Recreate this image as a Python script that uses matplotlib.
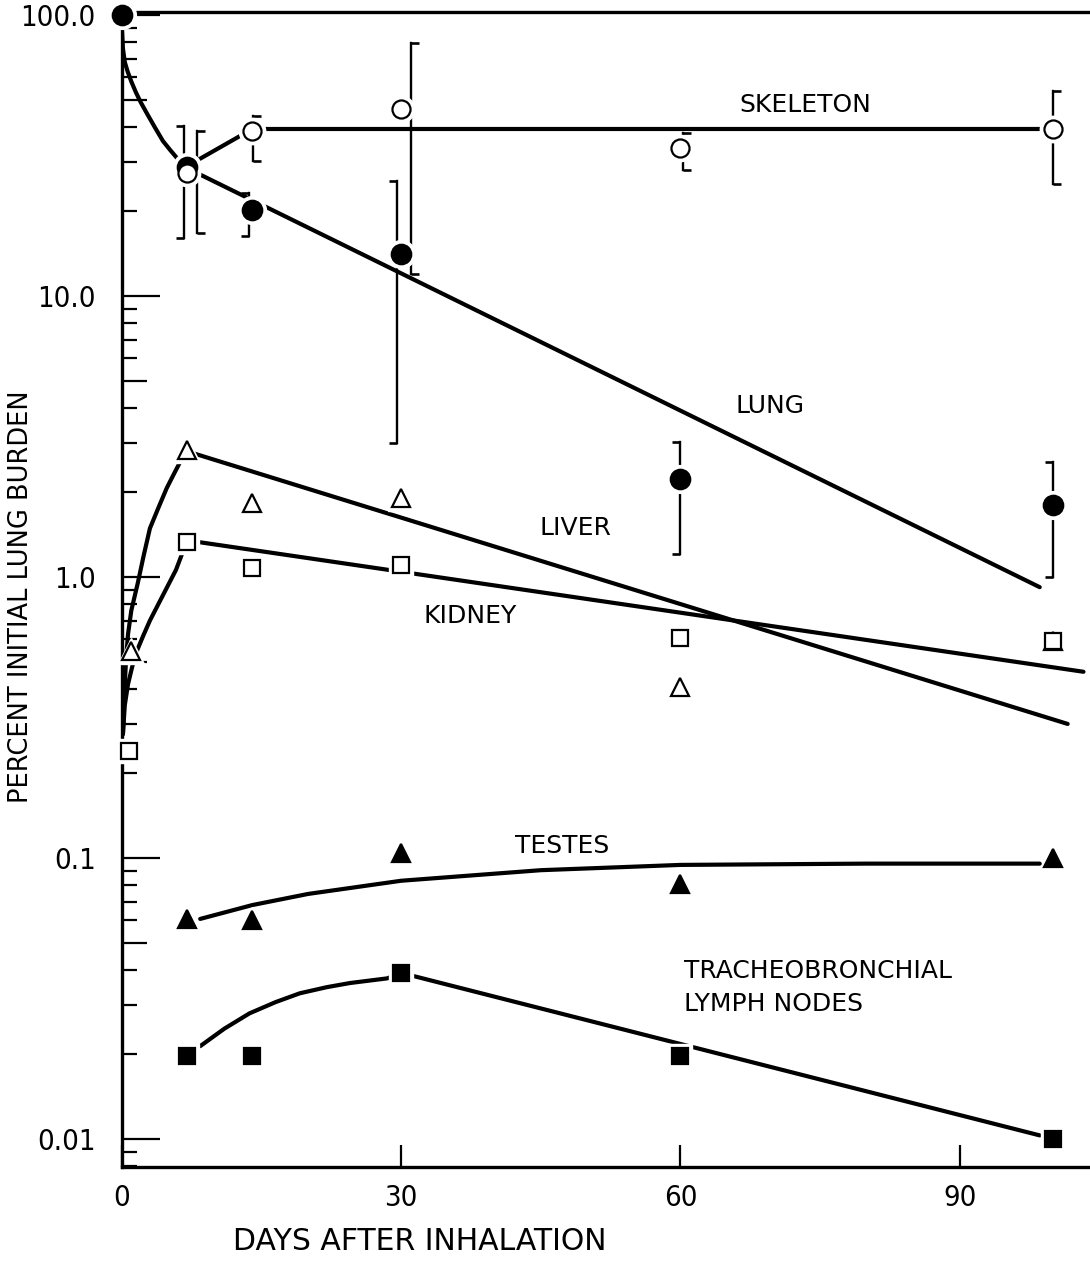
import matplotlib

matplotlib.use("Agg")
import matplotlib.pyplot as plt
import matplotlib.transforms as mtransforms
from matplotlib.path import Path
from matplotlib.ticker import FixedLocator, LogLocator, NullFormatter

plt.rcParams["font.family"] = ["DejaVu Sans"]

# measured points (days, percent of initial lung burden)
lung_days = [0, 7, 14, 30, 60, 100]
lung_vals = [100.0, 28.8, 20.2, 14.1, 2.23, 1.80]
skel_days = [7, 14, 30, 60, 100]
skel_vals = [27.4, 38.5, 46.3, 33.6, 39.3]
liver_days = [1, 7, 14, 30, 60, 100]
liver_vals = [0.545, 2.83, 1.83, 1.91, 0.406, 0.59]
kidney_days = [0.7, 7, 14, 30, 60, 100]
kidney_vals = [0.24, 1.33, 1.08, 1.10, 0.607, 0.59]
testes_days = [7, 14, 30, 60, 100]
testes_vals = [0.0607, 0.060, 0.104, 0.081, 0.10]
lymph_days = [7, 14, 30, 60, 100]
lymph_vals = [0.0197, 0.0197, 0.039, 0.0197, 0.010]

# error ranges
lung_err_days = [7, 14, 30, 60, 100]
lung_err_lo = [16.1, 16.3, 3.0, 1.21, 1.0]
lung_err_hi = [40.3, 23.3, 25.7, 3.02, 2.57]
skel_err_days = [7, 14, 30, 60, 100]
skel_err_lo = [16.8, 30.2, 12.0, 28.0, 25.0]
skel_err_hi = [38.7, 43.7, 79.5, 38.0, 53.7]

# hand-drawn fit curves
lung_fit_days = [0.0, 0.1, 0.3, 0.6, 1.0, 1.5, 2.0, 2.7, 3.5, 4.4, 5.2, 5.9, 7.0, 98.6]
lung_fit_vals = [88, 76, 68, 63, 58, 53, 49, 44.5, 40, 35.6, 33, 31, 28.5, 0.92]
skel_fit_days = [7, 14, 100]
skel_fit_vals = [29, 39.3, 39.3]
liver_fit_days = [0.1, 0.2, 0.3, 0.45, 0.65, 1.0, 1.7, 2.3, 3.0, 3.9, 4.8, 5.5, 6.2, 7.0, 101.6]
liver_fit_vals = [0.276, 0.34, 0.416, 0.52, 0.627, 0.76, 0.953, 1.18, 1.49, 1.76, 2.07, 2.3, 2.55, 2.8, 0.30]
kidney_fit_days = [0.1, 0.3, 0.65, 1.1, 1.6, 2.3, 3.0, 3.9, 4.8, 5.8, 7.0, 103.3]
kidney_fit_vals = [0.276, 0.35, 0.416, 0.48, 0.546, 0.62, 0.70, 0.80, 0.914, 1.06, 1.35, 0.46]
testes_fit_days = [8.4, 14, 20, 30, 45, 60, 80, 98.6]
testes_fit_vals = [0.0607, 0.068, 0.0745, 0.083, 0.0905, 0.0945, 0.0955, 0.0955]
lymph_fit_days = [8.4, 11, 13.7, 16.5, 19.1, 22, 24.5, 28.5, 30, 98.6]
lymph_fit_vals = [0.0214, 0.0247, 0.028, 0.0307, 0.033, 0.0347, 0.0359, 0.0373, 0.039, 0.0103]

x_ticks = [0, 30, 60, 90]
y_ticks = [0.01, 0.1, 1.0, 10.0, 100.0]
y_tick_labels = ["0.01", "0.1", "1.0", "10.0", "100.0"]


def main() -> None:
    fig = plt.figure(figsize=(10.9, 12.79), dpi=100)
    ax = fig.add_axes([122 / 1090, 1 - 1167 / 1279, 968 / 1090, 1155 / 1279])
    ax.set_yscale("log")
    ax.set_xlim(0, 104)
    ax.set_ylim(0.00795, 102.5)

    for side in ("top", "bottom", "left"):
        ax.spines[side].set_linewidth(2.4)
    ax.spines["right"].set_visible(False)

    fit_kw = dict(color="black", lw=3.0, solid_capstyle="round", solid_joinstyle="round", zorder=2)
    ax.plot(lung_fit_days, lung_fit_vals, **fit_kw)
    ax.plot(skel_fit_days, skel_fit_vals, **fit_kw)
    ax.plot(liver_fit_days, liver_fit_vals, **fit_kw)
    ax.plot(kidney_fit_days, kidney_fit_vals, **fit_kw)
    ax.plot(testes_fit_days, testes_fit_vals, **fit_kw)
    ax.plot(lymph_fit_days, lymph_fit_vals, **fit_kw)

    # bracket error bars, offset a few pixels sideways
    left_cap = Path([(0, 0), (-1, 0)], [Path.MOVETO, Path.LINETO])
    right_cap = Path([(0, 0), (1, 0)], [Path.MOVETO, Path.LINETO])

    def brackets(days, lo, hi, offsets, cap):
        for d, a, b, dx in zip(days, lo, hi, offsets):
            tr = ax.transData + mtransforms.ScaledTranslation(dx / 100, 0, fig.dpi_scale_trans)
            ax.plot([d, d], [a, b], color="black", lw=1.7, transform=tr, zorder=2)
            ax.plot([d, d], [a, b], ls="none", marker=cap, ms=12, mew=1.9,
                    mec="black", transform=tr, zorder=2)

    brackets(lung_err_days, lung_err_lo, lung_err_hi, [-3, -3, -4, 0, 0], left_cap)
    brackets(skel_err_days, skel_err_lo, skel_err_hi, [10, 1, 10, 3, 0], right_cap)

    # white halos give the small gaps where lines meet the symbols
    series = [
        (lung_days, lung_vals, "o", 14, "black"),
        (skel_days, skel_vals, "o", 13, "white"),
        (liver_days, liver_vals, "^", 13, "white"),
        (kidney_days, kidney_vals, "s", 11.5, "white"),
        (testes_days, testes_vals, "^", 13, "black"),
        (lymph_days, lymph_vals, "s", 11.5, "black"),
    ]
    for days, vals, m, ms, fc in series:
        ax.plot(days, vals, ls="none", marker=m, ms=ms + 6, mfc="white", mec="white",
                zorder=3, clip_on=False)
    for days, vals, m, ms, fc in series:
        ax.plot(days, vals, ls="none", marker=m, ms=ms, mfc=fc, mec="black", mew=1.6,
                zorder=4, clip_on=False)

    # ticks
    tick_font = dict(fontsize=21, fontstretch="condensed")
    ax.xaxis.set_major_locator(FixedLocator(x_ticks))
    ax.set_xticklabels([str(t) for t in x_ticks], **tick_font)
    ax.yaxis.set_major_locator(FixedLocator(y_ticks))
    ax.set_yticklabels(y_tick_labels, **tick_font)
    ax.yaxis.set_minor_locator(LogLocator(base=10, subs=[2, 3, 4, 6, 7, 8, 9]))
    ax.yaxis.set_minor_formatter(NullFormatter())
    ax.tick_params(axis="x", which="major", direction="in", length=16, width=1.6,
                   pad=12, top=False)
    ax.tick_params(axis="x", which="minor", bottom=False, top=False)
    ax.tick_params(axis="y", which="major", direction="in", length=27, width=1.6,
                   pad=19, right=False)
    ax.tick_params(axis="y", which="minor", direction="in", length=11, width=1.6, right=False)

    # the 5x ticks are drawn a little longer
    blend = mtransforms.blended_transform_factory(ax.transAxes, ax.transData)
    for v in [0.05, 0.5, 5.0, 50.0]:
        ax.plot([0, 25 / 968], [v, v], color="black", lw=1.6, transform=blend,
                solid_capstyle="butt", zorder=1)

    ax.set_xlabel("DAYS AFTER INHALATION", fontsize=21.5)
    ax.xaxis.set_label_coords(0.308, -0.052)
    ax.set_ylabel("PERCENT INITIAL LUNG BURDEN", fontsize=18.5)
    ax.yaxis.set_label_coords(-0.091, 0.494)

    lab = dict(fontsize=18, color="black", va="center")
    ax.text(73.4, 47.9, "SKELETON", ha="center", **lab)
    ax.text(69.6, 4.06, "LUNG", ha="center", **lab)
    ax.text(48.7, 1.49, "LIVER", ha="center", **lab)
    ax.text(37.4, 0.726, "KIDNEY", ha="center", **lab)
    ax.text(47.3, 0.110, "TESTES", ha="center", **lab)
    ax.text(60.4, 0.0396, "TRACHEOBRONCHIAL", ha="left", **lab)
    ax.text(60.4, 0.0302, "LYMPH NODES", ha="left", **lab)

    fig.savefig("out.png", dpi=100)
    plt.close(fig)


if __name__ == "__main__":
    main()
